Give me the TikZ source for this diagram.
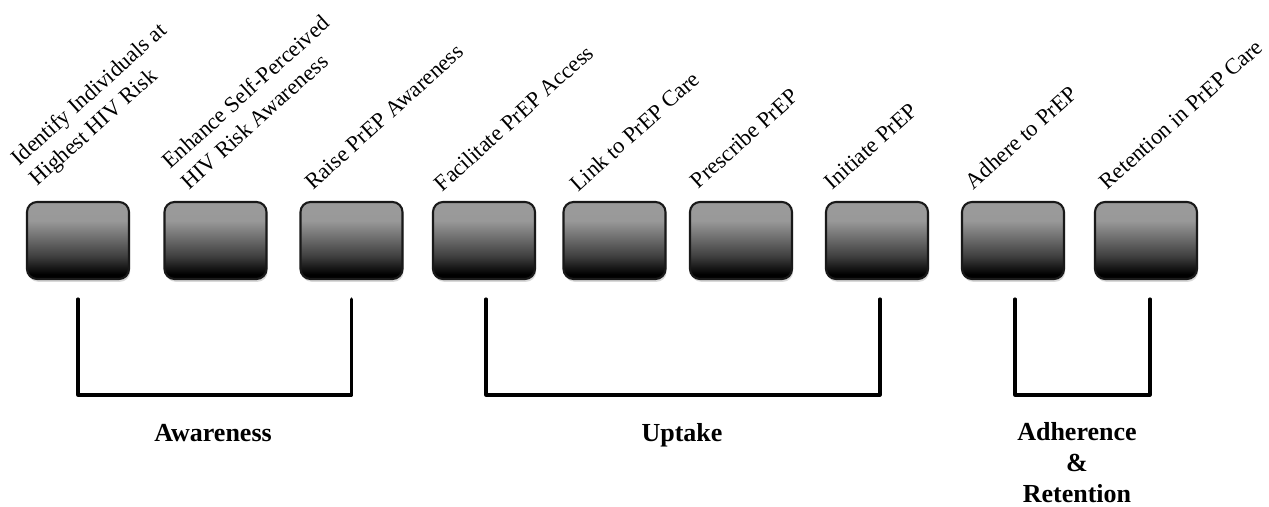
\documentclass[tikz,border=0pt]{standalone}
\usepackage{fontspec}
\setmainfont{Liberation Serif}
\usetikzlibrary{shadows}
\pgfdeclareverticalshading{stageshade}{100bp}{color(0bp)=(black); color(28bp)=(black); color(40bp)=(black!75); color(55bp)=(black!52); color(63bp)=(black!40); color(100bp)=(black!38)}

\begin{document}
\begin{tikzpicture}[x=0.02cm,y=-0.02cm]
	\tikzstyle{stage}=[draw=black!90, line width=1.2pt, rounded corners=0.2cm, minimum width=2.04cm, minimum height=1.54cm, shading=stageshade, drop shadow={shadow xshift=0.6pt, shadow yshift=-1.6pt, opacity=0.3}]
	\tikzstyle{lab}=[rotate=42, anchor=south west, inner sep=0pt, align=left, font=\fontsize{12.8}{15.8}\selectfont]
	\tikzstyle{bracket}=[line width=1.8pt, line cap=round, line join=round]
	\tikzstyle{group}=[inner sep=0pt, align=center, font=\bfseries\fontsize{14.8}{17.8}\selectfont]
	\useasboundingbox (0,0) rectangle (1269,507);
	% stages
	\node [stage] (b1) at (78,240.5) {};
	\node [stage] (b2) at (215.5,240.5) {};
	\node [stage] (b3) at (351.5,240.5) {};
	\node [stage] (b4) at (484,240.5) {};
	\node [stage] (b5) at (614.5,240.5) {};
	\node [stage] (b6) at (741,240.5) {};
	\node [stage] (b7) at (877,240.5) {};
	\node [stage] (b8) at (1013,240.5) {};
	\node [stage] (b9) at (1146,240.5) {};
	% slanted labels
	\node [lab] (t1) at ([shift={(15,-10)}]b1.north west) {Identify Individuals at\\Highest HIV Risk};
	\node [lab] (t2) at ([shift={(26,-10)}]b2.north west) {Enhance Self-Perceived\\HIV Risk Awareness};
	\node [lab] (t3) at ([shift={(14,-10)}]b3.north west) {Raise PrEP Awareness};
	\node [lab] (t4) at ([shift={(11,-8)}]b4.north west) {Facilitate PrEP Access};
	\node [lab] (t5) at ([shift={(16,-8)}]b5.north west) {Link to PrEP Care};
	\node [lab] (t6) at ([shift={(10,-11)}]b6.north west) {Prescribe PrEP};
	\node [lab] (t7) at ([shift={(8,-10)}]b7.north west) {Initiate PrEP};
	\node [lab] (t8) at ([shift={(13,-10)}]b8.north west) {Adhere to PrEP};
	\node [lab] (t9) at ([shift={(14,-10)}]b9.north west) {Retention in PrEP Care};
	% brackets
	\draw [bracket] ([yshift=-0.38cm]b1.south) -- ++(0,96) -| ([yshift=-0.38cm]b3.south);
	\draw [bracket] ([shift={(2,19)}]b4.south) -- ++(0,96) -| ([shift={(3,19)}]b7.south);
	\draw [bracket] ([shift={(2,19)}]b8.south) -- ++(0,96) -| ([shift={(4,19)}]b9.south);
	\node [group, anchor=base] (aw) at (213,441) {Awareness};
	\node [group, anchor=base] (up) at (682,441) {Uptake};
	\node [group, anchor=north] (ad) at (1077,422) {Adherence\\\&\\Retention};
\end{tikzpicture}
\end{document}
